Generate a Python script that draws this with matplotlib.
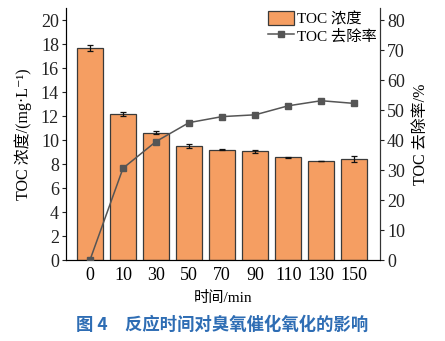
import numpy as np
import matplotlib.pyplot as plt
from matplotlib.ticker import MultipleLocator

plt.rcParams['font.family'] = ['Liberation Serif', 'Noto Sans CJK SC', 'DejaVu Serif']
plt.rcParams['axes.unicode_minus'] = False

# Données : concentration TOC et taux d'élimination en fonction du temps
temps = ['0', '10', '30', '50', '70', '90', '110', '130', '150']
toc = [17.65, 12.15, 10.6, 9.5, 9.2, 9.05, 8.55, 8.25, 8.4]
toc_err = [0.25, 0.15, 0.12, 0.2, 0.05, 0.1, 0.05, 0.03, 0.25]
taux = [0.0, 30.6, 39.5, 45.8, 47.8, 48.4, 51.4, 53.1, 52.2]

BAR_COLOR = '#F59E62'
EDGE_COLOR = '#3a3a3a'
LINE_COLOR = '#555555'

fig = plt.figure(figsize=(4.45, 3.41), dpi=100)
ax = fig.add_axes([0.148, 0.2375, 0.706, 0.739])
x = np.arange(len(temps))

bars = ax.bar(x, toc, width=0.8, color=BAR_COLOR, edgecolor=EDGE_COLOR,
              linewidth=0.9, yerr=toc_err, capsize=2.2,
              error_kw=dict(ecolor='#111111', elinewidth=0.9, capthick=0.9),
              zorder=2)
ax.set_xlim(-0.73, len(temps) - 0.22)
ax.set_ylim(0, 21)
ax.yaxis.set_major_locator(MultipleLocator(2))
ax.set_xticks(x)
ax.set_xticklabels(temps)
ax.tick_params(axis='x', length=0, labelsize=13, pad=5)
ax.tick_params(axis='y', direction='out', length=3, labelsize=13, pad=2,
               colors='#222222')
ax.spines['top'].set_visible(False)
for s in ('left', 'bottom', 'right'):
    ax.spines[s].set_color('#333333')
ax.set_xlabel('时间/min', fontsize=11, labelpad=5)
ax.set_ylabel('TOC 浓度/(mg·L⁻¹)', fontsize=11.5, labelpad=6)

ax2 = ax.twinx()
line, = ax2.plot(x, taux, color=LINE_COLOR, marker='s', markersize=4.5,
                 linewidth=1.1, zorder=3)
ax2.set_ylim(0, 84)
ax2.yaxis.set_major_locator(MultipleLocator(10))
ax2.tick_params(axis='y', direction='out', length=3, labelsize=13, pad=2,
                colors='#222222')
ax2.spines['top'].set_visible(False)
ax2.spines['right'].set_color('#333333')
ax2.set_ylabel('TOC 去除率/%', fontsize=11.5, labelpad=6)

leg = ax2.legend([bars, line], ['TOC 浓度', 'TOC 去除率'], loc='upper right',
                 frameon=False, fontsize=11, handlelength=1.7,
                 handleheight=1.0, handletextpad=0.2, borderaxespad=0.1,
                 labelspacing=0.15, borderpad=0.1)

fig.text(0.50, 0.02, '图 4　反应时间对臭氧催化氧化的影响', ha='center',
         va='bottom', fontsize=12.5, fontweight='bold', color='#2E6DB4',
         family=['Noto Sans CJK SC'])

fig.savefig('out.png', dpi=100)
